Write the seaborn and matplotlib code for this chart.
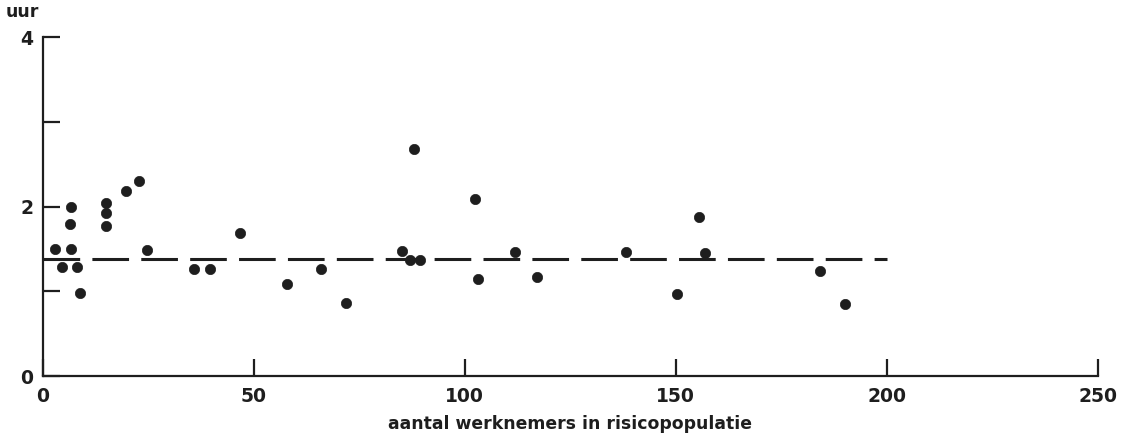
import matplotlib
matplotlib.use("Agg")
import matplotlib.pyplot as plt
import seaborn as sns
import pandas as pd

# data
werknemers = [2.8, 4.5, 6.6, 6.4, 6.6, 8.1, 8.8, 14.9, 14.9, 14.9, 19.7, 22.7, 24.6,
              35.8, 39.6, 46.7, 57.8, 65.9, 71.8, 85.1, 87.0, 88.0, 89.4, 102.4, 103.2,
              112.0, 117.2, 138.2, 150.2, 155.4, 157.0, 184.2, 190.2]
uur = [1.50, 1.29, 2.00, 1.79, 1.50, 1.29, 0.98, 2.04, 1.92, 1.77, 2.19, 2.30, 1.49,
       1.27, 1.27, 1.69, 1.09, 1.27, 0.865, 1.48, 1.365, 2.675, 1.365, 2.085, 1.15,
       1.47, 1.17, 1.47, 0.97, 1.876, 1.45, 1.235, 0.846]
gemiddelde_x = [0, 200]
gemiddelde_y = [1.38, 1.38]

x_ticks = [0, 50, 100, 150, 200, 250]
y_major = [0, 2, 4]
y_minor = [1, 3]

sns.set_style("white")
plt.rcParams['font.family'] = ['DejaVu Sans']
plt.rcParams['font.weight'] = 'bold'

df = pd.DataFrame({"x": werknemers, "y": uur})

fig = plt.figure(figsize=(11.26, 4.43), dpi=100)
ax = fig.add_axes([0.038, 0.151, 0.937, 0.765])

ink = "#1e1e1e"
ax.plot(gemiddelde_x, gemiddelde_y, color=ink, lw=2.2, dashes=(12, 4), zorder=2)
sns.scatterplot(data=df, x="x", y="y", ax=ax, color=ink, s=55, edgecolor=ink,
                linewidth=0.5, zorder=3)

ax.set_xlim(0, 250)
ax.set_ylim(0, 4)
ax.set_xticks(x_ticks)
ax.set_xticklabels([str(t) for t in x_ticks])
ax.set_yticks(y_major)
ax.set_yticklabels([str(t) for t in y_major])
ax.set_yticks(y_minor, minor=True)

for s in ["top", "right"]:
    ax.spines[s].set_visible(False)
for s in ["left", "bottom"]:
    ax.spines[s].set_color(ink)
    ax.spines[s].set_linewidth(1.6)

ax.tick_params(axis="both", which="both", direction="in", length=12, width=1.6,
               color=ink, labelcolor=ink, labelsize=13.5)
ax.tick_params(axis="y", which="both", pad=7, left=True)
ax.tick_params(axis="x", pad=8, bottom=True)

ax.set_xlabel("aantal werknemers in risicopopulatie", fontsize=12.4,
              fontweight="bold", color=ink)
ax.xaxis.set_label_coords(0.5, -0.115)
ax.set_ylabel("uur", rotation=0, fontsize=12.5, fontweight="bold", color=ink,
              family=["DejaVu Sans"], va="bottom")
ax.yaxis.set_label_coords(-0.019, 1.048)

fig.savefig("out.png", dpi=100, facecolor="white")
